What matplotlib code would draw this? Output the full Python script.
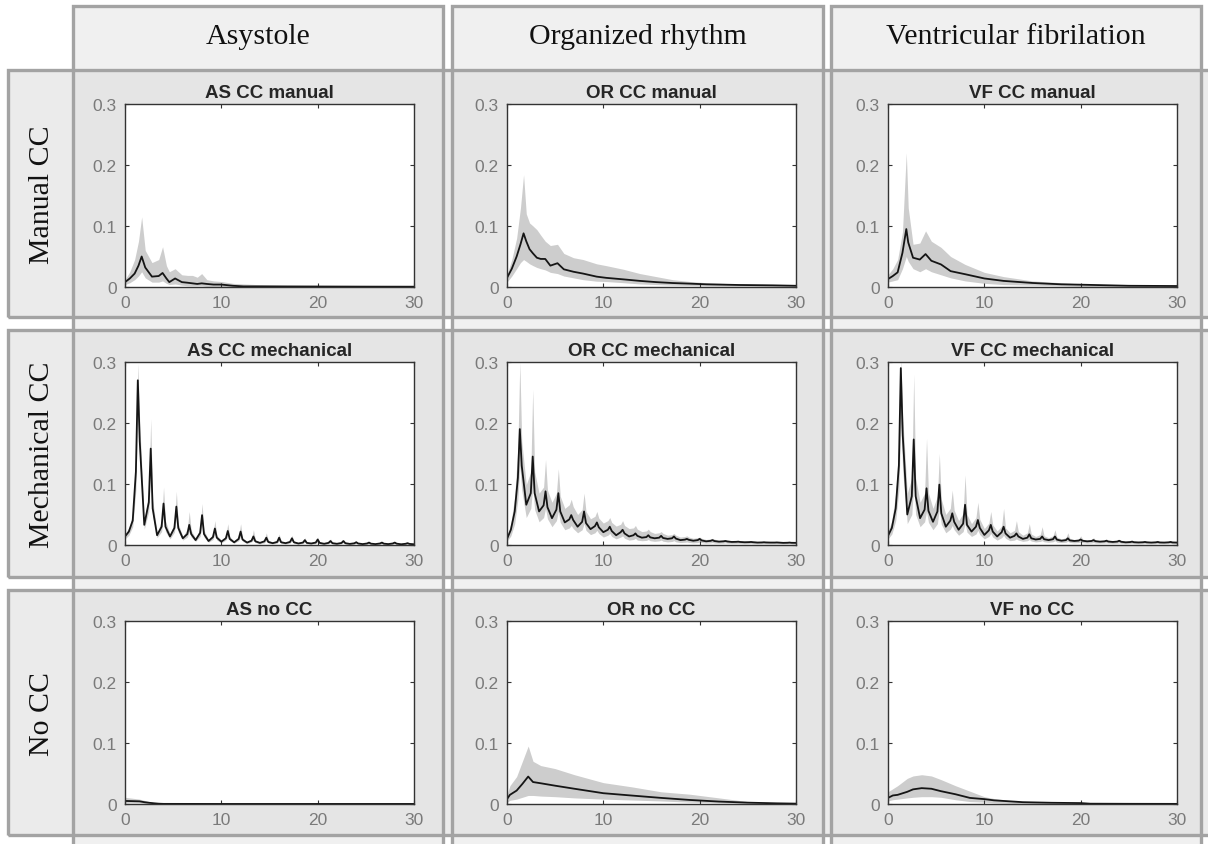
import matplotlib
matplotlib.use("Agg")
import matplotlib.pyplot as plt
from matplotlib.patches import Rectangle

# ---------------- data ----------------
col_labels = ["Asystole", "Organized rhythm", "Ventricular fibrilation"]
row_labels = ["Manual CC", "Mechanical CC", "No CC"]
panel_titles = [["AS CC manual", "OR CC manual", "VF CC manual"],
                ["AS CC mechanical", "OR CC mechanical", "VF CC mechanical"],
                ["AS no CC", "OR no CC", "VF no CC"]]
x_ticks = [0, 10, 20, 30]
y_ticks = [0, 0.1, 0.2, 0.3]
y_tick_labels = ["0", "0.1", "0.2", "0.3"]

# Manual CC
as_man_f = [0, 0.5, 1.0, 1.4, 1.73, 2.1, 2.8, 3.5, 3.9, 4.3, 4.6, 5.2, 5.9, 6.5, 7.0, 7.5, 7.96, 8.5, 9.2, 10.0, 11.2, 12.3, 15, 20, 25, 30]
as_man_mean = [0.008, 0.014, 0.022, 0.035, 0.05, 0.032, 0.017, 0.018, 0.023, 0.014, 0.008, 0.014, 0.008, 0.007, 0.006, 0.005, 0.006, 0.005, 0.004, 0.004, 0.002, 0.001, 0.001, 0.0008, 0.0006, 0.0005]
as_man_up = [0.012, 0.025, 0.045, 0.075, 0.115, 0.06, 0.04, 0.045, 0.066, 0.035, 0.025, 0.03, 0.02, 0.019, 0.019, 0.016, 0.022, 0.012, 0.01, 0.009, 0.006, 0.005, 0.003, 0.0015, 0.001, 0.001]
as_man_lo = [0.004, 0.007, 0.012, 0.018, 0.025, 0.015, 0.008, 0.008, 0.01, 0.006, 0.004, 0.005, 0.003, 0.002, 0.002, 0.002, 0.002, 0.001, 0.001, 0.001, 0.0005, 0, 0, 0, 0, 0]

or_man_f = [0, 0.5, 1.0, 1.4, 1.72, 2.0, 2.34, 2.7, 3.1, 3.5, 3.97, 4.5, 5.24, 5.9, 6.9, 7.9, 9.3, 10.3, 12.1, 13.8, 15.5, 17.2, 19, 20.7, 24.1, 27.6, 30]
or_man_mean = [0.015, 0.03, 0.05, 0.07, 0.088, 0.075, 0.062, 0.055, 0.048, 0.046, 0.046, 0.035, 0.039, 0.029, 0.025, 0.022, 0.017, 0.015, 0.0125, 0.01, 0.008, 0.0065, 0.0055, 0.0044, 0.0033, 0.0027, 0.002]
or_man_up = [0.02, 0.045, 0.08, 0.13, 0.184, 0.12, 0.105, 0.1, 0.094, 0.085, 0.075, 0.068, 0.07, 0.055, 0.048, 0.045, 0.038, 0.035, 0.029, 0.022, 0.017, 0.012, 0.009, 0.007, 0.005, 0.004, 0.003]
or_man_lo = [0.008, 0.018, 0.03, 0.04, 0.045, 0.042, 0.038, 0.035, 0.032, 0.03, 0.028, 0.024, 0.022, 0.018, 0.015, 0.012, 0.0095, 0.009, 0.007, 0.005, 0.004, 0.003, 0.0025, 0.002, 0.0015, 0.001, 0.001]

vf_man_f = [0, 0.5, 1.0, 1.5, 1.9, 2.1, 2.6, 3.3, 3.9, 4.5, 5.5, 6.5, 8, 10, 12, 15, 18, 20, 25, 30]
vf_man_mean = [0.013, 0.018, 0.024, 0.056, 0.095, 0.073, 0.048, 0.045, 0.054, 0.043, 0.037, 0.026, 0.021, 0.014, 0.01, 0.0066, 0.0044, 0.0038, 0.002, 0.0016]
vf_man_up = [0.02, 0.03, 0.045, 0.09, 0.22, 0.13, 0.07, 0.072, 0.092, 0.075, 0.065, 0.05, 0.037, 0.024, 0.017, 0.01, 0.007, 0.005, 0.003, 0.002]
vf_man_lo = [0.008, 0.01, 0.012, 0.03, 0.05, 0.042, 0.03, 0.025, 0.03, 0.025, 0.02, 0.015, 0.01, 0.006, 0.004, 0.003, 0.002, 0.001, 0.0005, 0]

# Mechanical CC (shared frequency grid: trough, shoulder, peak, shoulder per harmonic)
mech_f = [0.0, 0.4, 0.8, 1.13, 1.33, 1.53,
          2.0, 2.47, 2.67, 2.87,
          3.33, 3.8, 4.0, 4.2,
          4.67, 5.13, 5.33, 5.53,
          6.0, 6.47, 6.67, 6.87,
          7.33, 7.8, 8.0, 8.2,
          8.67, 9.13, 9.33, 9.53,
          10.0, 10.47, 10.67, 10.87,
          11.33, 11.8, 12.0, 12.2,
          12.67, 13.13, 13.33, 13.53,
          14.0, 14.47, 14.67, 14.87,
          15.33, 15.8, 16.0, 16.2,
          16.67, 17.13, 17.33, 17.53,
          18.0, 18.47, 18.67, 18.87,
          19.33, 19.8, 20.0, 20.2,
          20.67, 21.13, 21.33, 21.53,
          22.0, 22.47, 22.67, 22.87,
          23.33, 23.8, 24.0, 24.2,
          24.67, 25.13, 25.33, 25.53,
          26.0, 26.47, 26.67, 26.87,
          27.33, 27.8, 28.0, 28.2,
          28.67, 29.13, 29.33, 29.53,
          30.0]

as_mech_mean = [0.014, 0.022, 0.04, 0.12, 0.27, 0.17,
                0.033, 0.07, 0.158, 0.06,
                0.016, 0.03, 0.068, 0.03,
                0.014, 0.028, 0.063, 0.028,
                0.011, 0.018, 0.033, 0.018,
                0.008, 0.02, 0.049, 0.018,
                0.0065, 0.013, 0.027, 0.012,
                0.0055, 0.011, 0.023, 0.01,
                0.0044, 0.01, 0.022, 0.009,
                0.004, 0.007, 0.014, 0.006,
                0.0035, 0.006, 0.012, 0.005,
                0.003, 0.005, 0.012, 0.0045,
                0.003, 0.005, 0.011, 0.0045,
                0.0025, 0.004, 0.008, 0.0035,
                0.0025, 0.004, 0.009, 0.0035,
                0.002, 0.0035, 0.0065, 0.003,
                0.002, 0.0033, 0.0065, 0.003,
                0.0018, 0.0028, 0.0045, 0.0025,
                0.0015, 0.0025, 0.004, 0.0022,
                0.0015, 0.0025, 0.004, 0.0022,
                0.0015, 0.0025, 0.004, 0.0022,
                0.0012, 0.002, 0.003, 0.0018,
                0.0012]
as_mech_up = [0.018, 0.028, 0.05, 0.15, 0.298, 0.2,
              0.04, 0.085, 0.207, 0.075,
              0.02, 0.04, 0.095, 0.04,
              0.018, 0.036, 0.088, 0.035,
              0.014, 0.026, 0.055, 0.024,
              0.011, 0.027, 0.068, 0.024,
              0.009, 0.018, 0.04, 0.016,
              0.008, 0.015, 0.035, 0.014,
              0.006, 0.014, 0.035, 0.012,
              0.0055, 0.01, 0.025, 0.009,
              0.005, 0.009, 0.02, 0.008,
              0.0045, 0.008, 0.018, 0.007,
              0.004, 0.007, 0.016, 0.0065,
              0.0035, 0.006, 0.012, 0.005,
              0.0035, 0.006, 0.013, 0.005,
              0.003, 0.005, 0.01, 0.0045,
              0.003, 0.005, 0.009, 0.0045,
              0.0025, 0.004, 0.007, 0.0035,
              0.002, 0.0035, 0.006, 0.003,
              0.002, 0.0035, 0.006, 0.003,
              0.002, 0.0032, 0.005, 0.003,
              0.0018, 0.0028, 0.004, 0.0025,
              0.0018]
as_mech_lo = [0.01, 0.016, 0.03, 0.09, 0.23, 0.14,
              0.026, 0.055, 0.12, 0.048,
              0.012, 0.022, 0.05, 0.022,
              0.01, 0.021, 0.045, 0.021,
              0.008, 0.013, 0.022, 0.013,
              0.006, 0.014, 0.035, 0.013,
              0.0045, 0.009, 0.018, 0.008,
              0.0035, 0.008, 0.015, 0.007,
              0.003, 0.007, 0.014, 0.006,
              0.0025, 0.005, 0.008, 0.004,
              0.002, 0.0035, 0.007, 0.003,
              0.002, 0.003, 0.007, 0.0028,
              0.0018, 0.003, 0.007, 0.0026,
              0.0015, 0.0025, 0.005, 0.002,
              0.0015, 0.0025, 0.005, 0.002,
              0.0012, 0.002, 0.004, 0.0018,
              0.001, 0.002, 0.004, 0.0017,
              0.001, 0.0016, 0.003, 0.0014,
              0.0008, 0.0013, 0.002, 0.0012,
              0.0008, 0.0013, 0.002, 0.0012,
              0.0008, 0.0013, 0.002, 0.0012,
              0.0006, 0.001, 0.0015, 0.0009,
              0.0006]

or_mech_mean = [0.01, 0.025, 0.055, 0.11, 0.19, 0.13,
                0.066, 0.085, 0.145, 0.085,
                0.055, 0.065, 0.088, 0.062,
                0.044, 0.058, 0.085, 0.055,
                0.037, 0.042, 0.049, 0.041,
                0.03, 0.038, 0.055, 0.036,
                0.026, 0.031, 0.037, 0.029,
                0.021, 0.025, 0.03, 0.023,
                0.016, 0.021, 0.025, 0.019,
                0.014, 0.016, 0.019, 0.015,
                0.012, 0.013, 0.016, 0.0125,
                0.011, 0.012, 0.015, 0.0115,
                0.01, 0.011, 0.014, 0.0105,
                0.008, 0.0088, 0.01, 0.0085,
                0.007, 0.008, 0.01, 0.0075,
                0.006, 0.0068, 0.008, 0.0065,
                0.0055, 0.006, 0.0066, 0.0058,
                0.005, 0.0052, 0.0055, 0.005,
                0.0045, 0.0047, 0.005, 0.0046,
                0.004, 0.0042, 0.0045, 0.0042,
                0.004, 0.004, 0.0042, 0.004,
                0.0035, 0.0037, 0.004, 0.0036,
                0.0035]
or_mech_up = [0.015, 0.035, 0.08, 0.16, 0.3, 0.17,
              0.099, 0.12, 0.255, 0.12,
              0.085, 0.095, 0.14, 0.09,
              0.07, 0.085, 0.125, 0.08,
              0.06, 0.066, 0.075, 0.063,
              0.05, 0.058, 0.085, 0.055,
              0.043, 0.047, 0.055, 0.044,
              0.036, 0.04, 0.045, 0.037,
              0.031, 0.034, 0.04, 0.032,
              0.027, 0.028, 0.032, 0.026,
              0.022, 0.023, 0.026, 0.022,
              0.019, 0.02, 0.022, 0.019,
              0.016, 0.017, 0.019, 0.016,
              0.013, 0.014, 0.015, 0.013,
              0.011, 0.012, 0.013, 0.011,
              0.009, 0.01, 0.011, 0.0095,
              0.008, 0.0085, 0.009, 0.008,
              0.007, 0.0072, 0.0075, 0.007,
              0.0065, 0.0067, 0.007, 0.0065,
              0.006, 0.006, 0.0062, 0.006,
              0.0055, 0.0055, 0.0058, 0.0055,
              0.005, 0.0052, 0.0055, 0.005,
              0.005]
or_mech_lo = [0.006, 0.015, 0.035, 0.075, 0.13, 0.09,
              0.045, 0.06, 0.095, 0.058,
              0.038, 0.045, 0.06, 0.043,
              0.03, 0.04, 0.055, 0.037,
              0.025, 0.028, 0.032, 0.027,
              0.02, 0.025, 0.035, 0.024,
              0.017, 0.02, 0.024, 0.019,
              0.013, 0.016, 0.019, 0.014,
              0.01, 0.013, 0.015, 0.011,
              0.008, 0.009, 0.011, 0.008,
              0.007, 0.0075, 0.009, 0.007,
              0.006, 0.0068, 0.008, 0.0062,
              0.005, 0.0058, 0.007, 0.0052,
              0.004, 0.0045, 0.005, 0.0042,
              0.0035, 0.004, 0.005, 0.0037,
              0.003, 0.0034, 0.004, 0.0032,
              0.0028, 0.003, 0.0035, 0.0029,
              0.0025, 0.0026, 0.0028, 0.0025,
              0.0022, 0.0023, 0.0025, 0.0022,
              0.002, 0.0021, 0.0022, 0.002,
              0.002, 0.002, 0.002, 0.002,
              0.0018, 0.0019, 0.002, 0.0018,
              0.0018]

vf_mech_mean = [0.015, 0.028, 0.06, 0.13, 0.29, 0.18,
                0.05, 0.08, 0.173, 0.08,
                0.044, 0.058, 0.093, 0.056,
                0.038, 0.055, 0.099, 0.052,
                0.03, 0.04, 0.052, 0.038,
                0.025, 0.035, 0.066, 0.033,
                0.022, 0.03, 0.041, 0.028,
                0.0165, 0.024, 0.033, 0.022,
                0.014, 0.021, 0.03, 0.019,
                0.012, 0.015, 0.019, 0.014,
                0.01, 0.012, 0.0175, 0.011,
                0.009, 0.01, 0.014, 0.0095,
                0.008, 0.0095, 0.014, 0.0088,
                0.007, 0.008, 0.011, 0.0075,
                0.0066, 0.0072, 0.009, 0.007,
                0.006, 0.0066, 0.008, 0.0063,
                0.0055, 0.006, 0.007, 0.0057,
                0.005, 0.0056, 0.007, 0.0053,
                0.0044, 0.0048, 0.0055, 0.0046,
                0.0042, 0.0045, 0.005, 0.0044,
                0.004, 0.0044, 0.005, 0.0042,
                0.004, 0.0044, 0.005, 0.0042,
                0.004]
vf_mech_up = [0.022, 0.04, 0.085, 0.17, 0.305, 0.21,
              0.085, 0.11, 0.28, 0.11,
              0.07, 0.085, 0.175, 0.085,
              0.06, 0.08, 0.15, 0.075,
              0.05, 0.06, 0.09, 0.057,
              0.04, 0.052, 0.115, 0.05,
              0.035, 0.045, 0.07, 0.042,
              0.027, 0.036, 0.055, 0.033,
              0.023, 0.031, 0.06, 0.028,
              0.02, 0.024, 0.04, 0.022,
              0.016, 0.02, 0.035, 0.018,
              0.014, 0.017, 0.03, 0.015,
              0.012, 0.015, 0.025, 0.013,
              0.01, 0.012, 0.02, 0.011,
              0.009, 0.01, 0.015, 0.0095,
              0.008, 0.009, 0.012, 0.0085,
              0.0075, 0.008, 0.01, 0.0078,
              0.007, 0.0075, 0.009, 0.0072,
              0.006, 0.0065, 0.008, 0.0062,
              0.006, 0.0063, 0.007, 0.006,
              0.0055, 0.006, 0.007, 0.0057,
              0.005, 0.0055, 0.007, 0.0052,
              0.005]
vf_mech_lo = [0.01, 0.018, 0.04, 0.09, 0.2, 0.12,
              0.035, 0.05, 0.1, 0.05,
              0.03, 0.038, 0.055, 0.037,
              0.025, 0.035, 0.06, 0.034,
              0.02, 0.026, 0.032, 0.025,
              0.016, 0.022, 0.035, 0.021,
              0.014, 0.018, 0.024, 0.017,
              0.01, 0.014, 0.019, 0.013,
              0.008, 0.012, 0.016, 0.011,
              0.007, 0.008, 0.01, 0.008,
              0.006, 0.007, 0.009, 0.0065,
              0.005, 0.0058, 0.007, 0.0053,
              0.0045, 0.0053, 0.007, 0.0048,
              0.004, 0.0046, 0.006, 0.0042,
              0.0035, 0.004, 0.005, 0.0037,
              0.003, 0.0034, 0.004, 0.0032,
              0.003, 0.0032, 0.0035, 0.003,
              0.0025, 0.0029, 0.0035, 0.0027,
              0.0022, 0.0025, 0.0028, 0.0023,
              0.002, 0.0022, 0.0025, 0.0021,
              0.002, 0.0022, 0.0025, 0.0021,
              0.002, 0.0022, 0.0025, 0.0021,
              0.002]

# No CC
as_no_f = [0, 0.5, 1.0, 1.5, 2.0, 2.5, 3.0, 3.5, 4.0, 10, 20, 30]
as_no_mean = [0.005, 0.0048, 0.0046, 0.0044, 0.003, 0.002, 0.0012, 0.0005, 0.0002, 0.0001, 0.0001, 0.0001]
as_no_up = [0.011, 0.01, 0.009, 0.008, 0.006, 0.004, 0.0025, 0.0012, 0.0005, 0.0002, 0.0001, 0.0001]
as_no_lo = [0.002, 0.002, 0.002, 0.002, 0.001, 0.0008, 0.0004, 0.0001, 0, 0, 0, 0]

or_no_f = [0, 0.3, 1.0, 1.6, 2.2, 2.7, 3.5, 5, 7, 10, 13, 16, 19, 22, 25, 28, 30]
or_no_mean = [0.008, 0.015, 0.022, 0.033, 0.045, 0.036, 0.034, 0.03, 0.025, 0.0177, 0.0138, 0.01, 0.0066, 0.004, 0.0022, 0.0011, 0.0006]
or_no_up = [0.015, 0.03, 0.045, 0.07, 0.095, 0.07, 0.063, 0.058, 0.048, 0.035, 0.028, 0.02, 0.016, 0.01, 0.004, 0.002, 0.001]
or_no_lo = [0.003, 0.006, 0.008, 0.011, 0.014, 0.014, 0.013, 0.012, 0.01, 0.008, 0.0065, 0.005, 0.003, 0.002, 0.001, 0.0005, 0]

vf_no_f = [0, 0.5, 1, 2, 2.6, 3.5, 4.5, 5.5, 7, 8.5, 10, 11, 13, 14, 17, 20, 21, 25, 30]
vf_no_mean = [0.01, 0.014, 0.015, 0.02, 0.024, 0.026, 0.025, 0.021, 0.016, 0.01, 0.008, 0.006, 0.004, 0.003, 0.002, 0.0015, 0.0005, 0.0003, 0.0002]
vf_no_up = [0.02, 0.025, 0.03, 0.042, 0.046, 0.048, 0.046, 0.04, 0.03, 0.021, 0.012, 0.009, 0.005, 0.004, 0.002, 0.0012, 0.001, 0.0005, 0.0003]
vf_no_lo = [0.005, 0.007, 0.008, 0.01, 0.011, 0.012, 0.012, 0.011, 0.007, 0.004, 0.003, 0.002, 0.001, 0.001, 0.0005, 0, 0, 0, 0]

panels = [
    [(as_man_f, as_man_mean, as_man_lo, as_man_up),
     (or_man_f, or_man_mean, or_man_lo, or_man_up),
     (vf_man_f, vf_man_mean, vf_man_lo, vf_man_up)],
    [(mech_f, as_mech_mean, as_mech_lo, as_mech_up),
     (mech_f, or_mech_mean, or_mech_lo, or_mech_up),
     (mech_f, vf_mech_mean, vf_mech_lo, vf_mech_up)],
    [(as_no_f, as_no_mean, as_no_lo, as_no_up),
     (or_no_f, or_no_mean, or_no_lo, or_no_up),
     (vf_no_f, vf_no_mean, vf_no_lo, vf_no_up)],
]

# ---------------- layout ----------------
W, H = 1208, 845
fig = plt.figure(figsize=(W / 100, H / 100), dpi=100)
fig.patch.set_facecolor("white")

def fx(x):
    return x / W

def fy(y):
    return 1 - y / H

def rect(x0, y0, x1, y1, **kw):
    r = Rectangle((fx(x0), fy(y1)), fx(x1) - fx(x0), fy(y0) - fy(y1),
                  transform=fig.transFigure, **kw)
    fig.add_artist(r)
    return r

col_x = [(73, 443), (452, 823), (831, 1201)]
row_y = [(71, 317.5), (331.5, 578), (591, 836)]
border = "#a3a3a3"
lw_b = 2.4

# fills
for (x0, x1) in col_x:
    rect(x0, 7, x1, 860, facecolor="#f0f0f0", edgecolor="none", zorder=-5)
for (y0, y1) in row_y:
    rect(8, y0, 1230, y1, facecolor="#ebebeb", edgecolor="none", zorder=-4)
    for (x0, x1) in col_x:
        rect(x0, y0, x1, y1, facecolor="#e5e5e5", edgecolor="none", zorder=-3)
# borders
for (x0, x1) in col_x:
    rect(x0, 7, x1, 860, facecolor="none", edgecolor=border, lw=lw_b, zorder=-1)
for (y0, y1) in row_y:
    rect(8, y0, 1230, y1, facecolor="none", edgecolor=border, lw=lw_b, zorder=-1)

# headers
for j, (x0, x1) in enumerate(col_x):
    fig.text(fx((x0 + x1) / 2), fy(37), col_labels[j], ha="center", va="center",
             fontsize=21.5, family="Liberation Serif", color="#111111")
for i, (y0, y1) in enumerate(row_y):
    fig.text(fx(42), fy((y0 + y1) / 2), row_labels[i], ha="center", va="center",
             rotation=90, fontsize=21.5, family="Liberation Serif", color="#111111")

ax_left = [125, 507, 888]
ax_top = [105, 363, 622]
ax_w, ax_h = 289, 183

tick_col = "#7a7a7a"
for i in range(3):
    for j in range(3):
        ax = fig.add_axes([fx(ax_left[j]), fy(ax_top[i] + ax_h), ax_w / W, ax_h / H])
        f, m, lo, up = panels[i][j]
        ax.fill_between(f, lo, up, color="#cdcdcd", lw=0, zorder=1)
        ax.plot(f, m, color="#151515", lw=1.3, zorder=2)
        ax.set_xlim(0, 30)
        ax.set_ylim(0, 0.3)
        ax.set_xticks(x_ticks)
        ax.set_yticks(y_ticks)
        ax.set_yticklabels(y_tick_labels)
        ax.tick_params(direction="in", length=3, width=0.8, top=True, right=True,
                       colors="#333333", labelcolor=tick_col, labelsize=12.5, pad=6)
        for lab in ax.get_xticklabels() + ax.get_yticklabels():
            lab.set_family("Liberation Sans")
        for s in ax.spines.values():
            s.set_color("#333333")
            s.set_linewidth(1.0)
        ax.set_title(panel_titles[i][j], fontsize=13.5, fontweight="bold",
                     family="Liberation Sans", color="#262626", pad=5)

fig.savefig("out.png", dpi=100, facecolor="white")
